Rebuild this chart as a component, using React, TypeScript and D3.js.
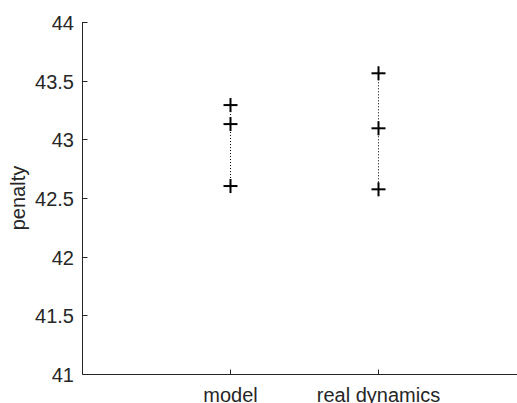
import React from "react";
import * as d3 from "d3";

// Categories and their penalty values (three measurements per category)
const categories = ["model", "real dynamics"];
const modelValues = [43.292, 43.13, 42.602];
const realValues = [43.563, 43.094, 42.574];
const yTicks = [41, 41.5, 42, 42.5, 43, 43.5, 44];

const W = 517;
const H = 403;
const margin = { left: 82, top: 22, bottom: 29 };
const axisColor = "#262626";
const font = "'Liberation Sans', Arial, Helvetica, sans-serif";
const fontSize = 20;

export default function App() {
  const x = d3.scaleLinear().domain([0, 3]).range([margin.left, margin.left + 3 * 148]);
  const y = d3.scaleLinear().domain([41, 44]).range([H - margin.bottom, margin.top]);
  const series = [modelValues, realValues];
  const x0 = Math.round(x(0)) + 0.5;
  const yb = Math.round(y(41)) + 0.5;
  const arm = 7;

  return (
    <svg
      width={W}
      height={H}
      style={{ position: "absolute", left: 0, top: 0, background: "#fff" }}
      fontFamily={font}
    >
      {/* y axis */}
      <line x1={x0} x2={x0} y1={y(44)} y2={yb} stroke={axisColor} strokeWidth={1} />
      {yTicks.map((t) => {
        const yy = Math.round(y(t)) + 0.5;
        return (
          <g key={t}>
            <line x1={x0} x2={x0 + 5} y1={yy} y2={yy} stroke={axisColor} />
            <text
              x={74}
              y={yy}
              dy="0.36em"
              textAnchor="end"
              fontSize={fontSize}
              fill={axisColor}
            >
              {String(t)}
            </text>
          </g>
        );
      })}
      {/* x axis */}
      <line x1={x0} x2={x(3)} y1={yb} y2={yb} stroke={axisColor} strokeWidth={1} />
      {categories.map((c, i) => {
        const xx = Math.round(x(i + 1)) + 0.5;
        return (
          <g key={c}>
            <line x1={xx} x2={xx} y1={yb} y2={yb - 5} stroke={axisColor} />
            <text x={xx} y={402} textAnchor="middle" fontSize={fontSize} fill={axisColor}>
              {c}
            </text>
          </g>
        );
      })}
      {/* y label */}
      <text
        transform={`translate(25,${(y(41) + y(44)) / 2}) rotate(-90)`}
        textAnchor="middle"
        fontSize={fontSize}
        fill={axisColor}
      >
        penalty
      </text>
      {/* range lines and markers */}
      {series.map((vals, i) => {
        const cx = Math.round(x(i + 1)) + 0.5;
        const lo = d3.min(vals)!;
        const hi = d3.max(vals)!;
        return (
          <g key={i}>
            <line
              x1={cx}
              x2={cx}
              y1={y(hi)}
              y2={y(lo)}
              stroke="#000"
              strokeWidth={1}
              strokeDasharray="1 2"
            />
            {vals.map((v, j) => {
              const cy = y(v);
              return (
                <g key={j} stroke="#000" strokeWidth={2}>
                  <line x1={cx - arm} x2={cx + arm} y1={cy} y2={cy} />
                  <line x1={cx} x2={cx} y1={cy - arm} y2={cy + arm} />
                </g>
              );
            })}
          </g>
        );
      })}
    </svg>
  );
}
